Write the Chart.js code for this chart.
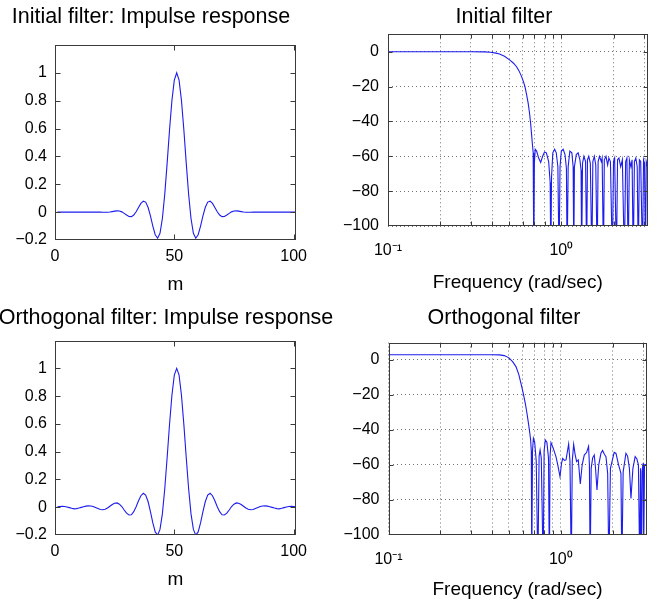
<!DOCTYPE html>
<html><head><meta charset="utf-8">
<script src="https://cdn.jsdelivr.net/npm/chart.js@4.4.0/dist/chart.umd.min.js"></script>
<style>
html,body{margin:0;padding:0;background:#fff;}
body{width:671px;height:606px;position:relative;overflow:hidden;}
canvas{position:absolute;}
</style></head><body>
<canvas id="c1" width="320" height="300" style="left:0px;top:0px"></canvas>
<canvas id="c2" width="338" height="300" style="left:335px;top:0px"></canvas>
<canvas id="c3" width="340" height="306" style="left:-4px;top:300px"></canvas>
<canvas id="c4" width="338" height="306" style="left:335px;top:300px"></canvas>
<script>
// ---------------- data ----------------
const sampleIndex = [1,2,3,4,5,6,7,8,9,10,11,12,13,14,15,16,17,18,19,20,21,22,23,24,25,26,27,28,29,30,31,32,33,34,35,36,37,38,39,40,41,42,43,44,45,46,47,48,49,50,51,52,53,54,55,56,57,58,59,60,61,62,63,64,65,66,67,68,69,70,71,72,73,74,75,76,77,78,79,80,81,82,83,84,85,86,87,88,89,90,91,92,93,94,95,96,97,98,99,100,101];

const impulseInitial = [0,0,0,0,0,0,0,0,0,0,0,0,0,0,0,0,0,0,0,
 -0.001,-0.001,-0.001,0.001,0.004,0.007,0.009,0.008,0.002,-0.009,-0.021,-0.031,-0.032,-0.021,0.003,0.034,0.063,0.079,0.072,0.035,-0.027,-0.100,-0.162,-0.187,-0.152,-0.046,0.129,0.352,0.591,0.802,0.948,
 1.000,
 0.948,0.802,0.591,0.352,0.129,-0.046,-0.152,-0.187,-0.162,-0.100,-0.027,0.035,0.072,0.079,0.063,0.034,0.003,-0.021,-0.032,-0.031,-0.021,-0.009,0.002,0.008,0.009,0.007,0.004,0.001,-0.001,-0.001,-0.001,
 0,0,0,0,0,0,0,0,0,0,0,0,0,0,0,0,0,0,0];

const impulseOrthogonal = [0.003,0.005,0.006,0.005,0.002,-0.003,-0.008,-0.012,-0.010,-0.006,-0.001,0.004,0.008,0.010,0.009,0.005,-0.002,-0.009,-0.016,-0.018,-0.015,-0.006,0.007,0.020,0.029,0.031,0.022,0.005,-0.020,-0.043,-0.056,-0.054,-0.032,0.004,0.047,0.083,0.100,0.087,0.041,-0.031,-0.113,-0.178,-0.201,-0.160,-0.048,0.133,0.358,0.597,0.806,0.951,
 1.000,
 0.951,0.806,0.597,0.358,0.133,-0.048,-0.160,-0.201,-0.178,-0.113,-0.031,0.041,0.087,0.100,0.083,0.047,0.004,-0.032,-0.054,-0.056,-0.043,-0.020,0.005,0.022,0.031,0.029,0.020,0.007,-0.006,-0.015,-0.018,-0.016,-0.009,-0.002,0.005,0.009,0.010,0.008,0.004,-0.001,-0.006,-0.010,-0.012,-0.008,-0.003,0.002,0.005,0.006,0.005,0.003];

const impulseXTicks = [0, 50, 100];
const impulseYTicks = [-0.2, 0, 0.2, 0.4, 0.6, 0.8, 1];

const freqInitial = [0.1,0.2,0.3,0.36,0.39,0.42,0.44,0.47,0.505,0.53,0.552,0.57,0.59,0.605,0.617,0.63,0.644,0.655,0.665,0.673,0.68,0.688,0.692,0.695,0.699,0.707,0.72,0.74,0.76,0.78,0.80,0.82,0.845,0.862,0.870,0.878,0.893,0.915,0.935,0.955,0.970,0.983,1.0,1.025,1.05,1.07,1.08,1.095,1.12,1.15,1.17,1.18,1.19,1.22,1.25,1.28,1.30,1.31,1.325,1.35,1.38,1.40,1.415,1.44,1.47,1.50,1.52,1.55,1.58,1.61,1.63,1.66,1.70,1.72,1.75,1.77,1.81,1.85,1.88,1.92,1.97,2.0,2.03,2.08,2.11,2.15,2.2,2.25,2.31,2.35,2.39,2.43,2.47,2.52,2.56,2.60,2.64,2.69,2.74,2.78,2.82,2.87,2.94,2.98,3.02,3.06,3.09,3.1416];
const magInitial = [0,0,0,-0.1,-0.3,-0.8,-1.3,-2.6,-4.8,-6.6,-8.6,-11,-14.3,-17.3,-20,-24.5,-29.6,-35,-41,-47,-52.5,-58,-66,-120,-64,-56,-57,-61,-63.5,-60,-57.5,-58,-63,-75,-120,-72,-58,-56,-58,-66,-120,-66,-57,-56,-59,-67,-120,-66,-57,-58,-66,-120,-66,-59,-58,-62,-68,-120,-64,-60,-63,-120,-62,-60,-64,-120,-63,-60,-65,-120,-63,-60,-63,-61,-120,-62,-60,-65,-61,-63,-120,-63,-61,-120,-62,-61,-66,-62,-120,-63,-61,-120,-62,-66,-62,-120,-63,-61,-66,-120,-62,-63,-120,-62,-64,-120,-63,-66];

const freqOrthogonal = [0.1,0.2,0.3,0.4,0.44,0.47,0.5,0.525,0.549,0.57,0.587,0.605,0.622,0.636,0.649,0.66,0.668,0.674,0.678,0.685,0.693,0.705,0.72,0.736,0.748,0.758,0.77,0.79,0.80,0.813,0.83,0.848,0.858,0.866,0.877,0.9,0.937,0.96,0.989,1.01,1.025,1.05,1.072,1.11,1.13,1.15,1.165,1.187,1.21,1.235,1.263,1.297,1.33,1.368,1.41,1.449,1.465,1.48,1.5,1.53,1.563,1.59,1.621,1.66,1.709,1.747,1.79,1.828,1.87,1.9,1.94,2.04,2.09,2.163,2.233,2.26,2.3,2.387,2.44,2.5,2.553,2.62,2.7,2.76,2.82,2.87,2.9,2.93,2.96,3.0,3.02,3.06,3.1416];
const magOrthogonal = [3,3,3,3,2.9,2.5,1.2,-1,-3.8,-8.2,-13.4,-19,-24.8,-30.5,-36.3,-41.5,-45.8,-52,-120,-52,-44.8,-47,-58,-120,-55,-51.5,-56,-120,-52,-45.8,-47,-56,-120,-55,-47.3,-50,-55.3,-60,-66.8,-59,-56.3,-57.5,-57.2,-48.1,-58,-120,-58,-48.3,-54,-58.2,-57.2,-71,-60,-54.4,-53,-49.4,-60,-120,-62,-56,-54.4,-62,-74.4,-60,-53.4,-51.8,-54,-55.3,-65,-120,-62,-52.9,-53.5,-60,-64.9,-120,-64,-53.4,-55,-62,-79.2,-62,-55.3,-56.5,-60,-120,-62,-120,-64,-59.1,-120,-60,-60];

const freqGridTicks = [0.1,0.2,0.3,0.4,0.5,0.6,0.7,0.8,0.9,1,2,3];
const freqTickLabels = {'0.1':'10\u207B\u00B9', '1':'10\u2070'};
const magTicks = [-100, -80, -60, -40, -20, 0];
const FREQ_MIN = 0.1, FREQ_MAX = Math.PI;

const titles = ['Initial filter: Impulse response','Initial filter','Orthogonal filter: Impulse response','Orthogonal filter'];
const xLabels = ['m','Frequency (rad/sec)'];

// ---------------- styling ----------------
const FONT = "'Liberation Sans', Arial, Helvetica, sans-serif";
const LINE = 'rgb(28,28,238)';
Chart.defaults.color = '#000';
Chart.defaults.font.family = FONT;

function fmt(v){ return v < 0 ? '\u2212' + String(Math.abs(v)) : String(v); }
function pts(xs, ys){ return xs.map((x,i)=>({x:x, y:ys[i]})); }

const framePlugin = {
  id:'frame',
  afterDatasetsDraw(chart, args, opts){
    const {ctx, chartArea:a, scales} = chart;
    const L=Math.round(a.left)+0.5, R=Math.round(a.right)-0.5, T=Math.round(a.top)+0.5, B=Math.round(a.bottom)-0.5;
    ctx.save();
    ctx.strokeStyle = '#3a3a3a'; ctx.lineWidth = 1;
    ctx.strokeRect(L,T,R-L,B-T);
    ctx.beginPath();
    const tl = opts.tickLen || 5;
    scales.x.ticks.forEach(t=>{
      const px=Math.round(scales.x.getPixelForValue(t.value))+0.5;
      if(px<L+1||px>R-1) return;
      ctx.moveTo(px,B); ctx.lineTo(px,B-tl); ctx.moveTo(px,T); ctx.lineTo(px,T+tl);
    });
    scales.y.ticks.forEach(t=>{
      const py=Math.round(scales.y.getPixelForValue(t.value))+0.5;
      if(py<T+1||py>B-1) return;
      ctx.moveTo(L,py); ctx.lineTo(L+tl,py); ctx.moveTo(R,py); ctx.lineTo(R-tl,py);
    });
    ctx.stroke(); ctx.restore();
  }
};

function makeChart(id, o){
  const isLog = o.kind === 'freq';
  const xScale = isLog ? {
    type:'logarithmic', min:FREQ_MIN, max:FREQ_MAX,
    afterBuildTicks: s => { s.ticks = freqGridTicks.map(v=>({value:v})); },
    afterFit: s => { s.height = o.xH; },
    grid:{display:true, drawOnChartArea:true, drawTicks:false, color:'rgba(0,0,0,0.55)', lineWidth:1},
    border:{display:false, dash:[1,3]},
    ticks:{autoSkip:false, maxRotation:0, minRotation:0, padding:o.xTickPad, font:{size:16},
      callback: v => freqTickLabels[String(v)] || ''},
    title:{display:true, text:xLabels[1], font:{size:19}, padding:{top:0,bottom:o.xTitlePad}}
  } : {
    type:'linear', min:0, max:101,
    afterBuildTicks: s => { s.ticks = impulseXTicks.map(v=>({value:v})); },
    afterFit: s => { s.height = o.xH; },
    grid:{display:false, drawTicks:false}, border:{display:false},
    ticks:{autoSkip:false, maxRotation:0, minRotation:0, padding:o.xTickPad, font:{size:16}, callback: v => fmt(v)},
    title:{display:true, text:xLabels[0], font:{size:19}, padding:{top:0,bottom:o.xTitlePad}}
  };
  const yScale = isLog ? {
    type:'linear', min:-100, max:10,
    afterBuildTicks: s => { s.ticks = magTicks.map(v=>({value:v})); },
    afterFit: s => { s.width = o.yW; },
    grid:{display:true, drawOnChartArea:true, drawTicks:false, color:'rgba(0,0,0,0.55)', lineWidth:1},
    border:{display:false, dash:[1,3]},
    ticks:{padding:9, font:{size:16}, callback: v => fmt(v)}
  } : {
    type:'linear', min:-0.2, max:1.2,
    afterBuildTicks: s => { s.ticks = impulseYTicks.map(v=>({value:v})); },
    afterFit: s => { s.width = o.yW; },
    grid:{display:false, drawTicks:false}, border:{display:false},
    ticks:{padding:8, font:{size:16}, callback: v => fmt(v)}
  };
  // empty right-hand spacer axis (lets the title box extend past the plot frame)
  const spacer = {
    position:'right', display:true,
    afterFit: s => { s.width = o.rW; },
    grid:{display:false, drawTicks:false}, border:{display:false}, ticks:{display:false}
  };
  return new Chart(document.getElementById(id), {
    type:'line',
    data:{datasets:[{data:o.data, borderColor:LINE, borderWidth:1.1, pointRadius:0, tension:0, fill:false}]},
    options:{
      responsive:false, animation:false, devicePixelRatio:1,
      layout:{padding:{left:0, right:o.pr, top:0, bottom:0}},
      plugins:{
        legend:{display:false}, tooltip:{enabled:false},
        title:{display:true, text:o.title, font:{size:21.5, weight:'normal'}, color:'#000', padding:{top:o.tPadTop, bottom:o.tPadBot}},
        frame:{tickLen: isLog ? 4 : 5}
      },
      scales:{x:xScale, y:yScale, y2:spacer}
    },
    plugins:[framePlugin]
  });
}

makeChart('c1', {kind:'imp', title:titles[0], data:pts(sampleIndex, impulseInitial),
  yW:55, rW:6, pr:18, xH:60, xTickPad:7, xTitlePad:3.6, tPadTop:4.1, tPadBot:15.1});
makeChart('c2', {kind:'freq', title:titles[1], data:pts(freqInitial, magInitial),
  yW:53, rW:25.5, pr:0, xH:74, xTickPad:15, xTitlePad:6, tPadTop:4.1, tPadBot:4.4});
makeChart('c3', {kind:'imp', title:titles[2], data:pts(sampleIndex, impulseOrthogonal),
  yW:59, rW:40, pr:0, xH:71, xTickPad:7, xTitlePad:14.6, tPadTop:5.1, tPadBot:9.7});
makeChart('c4', {kind:'freq', title:titles[3], data:pts(freqOrthogonal, magOrthogonal),
  yW:53.5, rW:26.5, pr:0, xH:71.3, xTickPad:15, xTitlePad:4.6, tPadTop:5.1, tPadBot:11.6});
</script>
</body></html>
